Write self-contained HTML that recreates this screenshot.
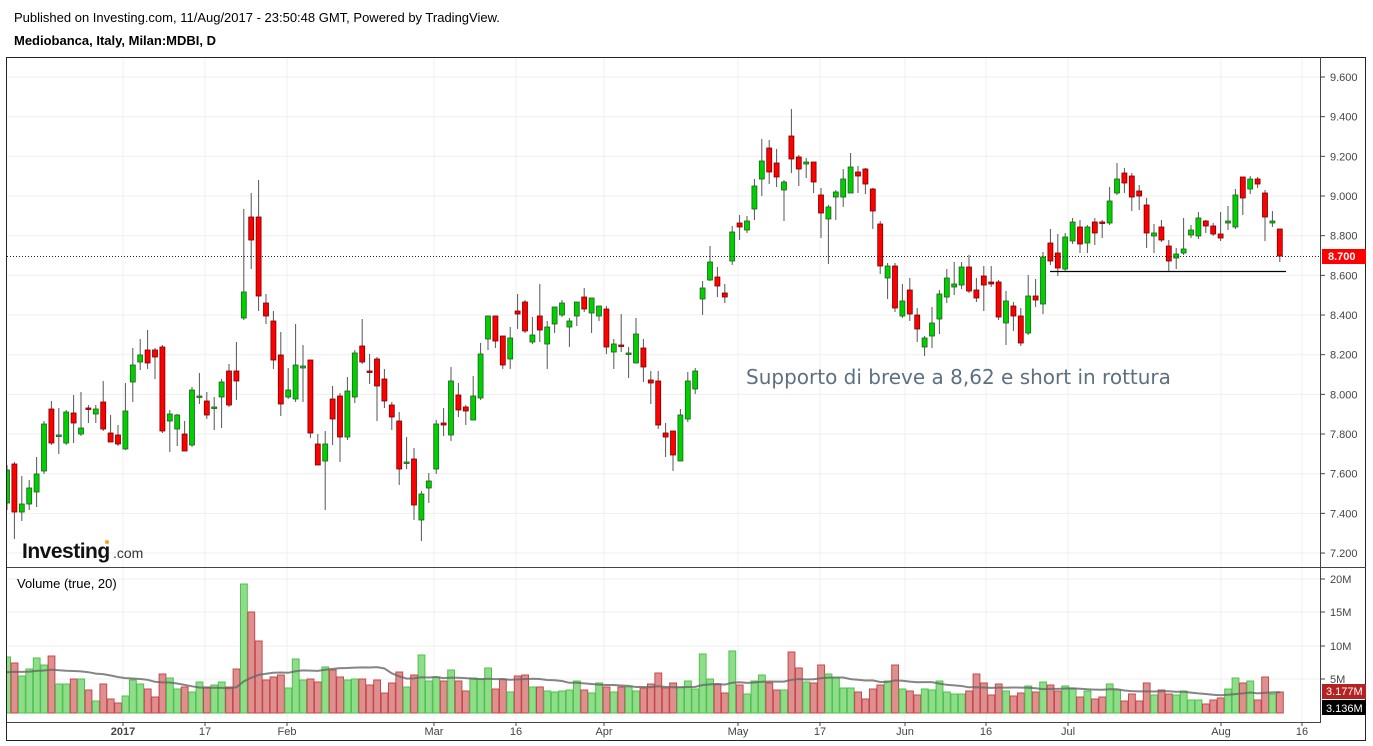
<!DOCTYPE html>
<html><head><meta charset="utf-8"><style>
body{margin:0;background:#fff;width:1373px;height:746px;overflow:hidden;font-family:"Liberation Sans",Arial,sans-serif}
svg{position:absolute;left:0;top:0}
</style></head><body>
<svg id="s" width="1373" height="746" xmlns="http://www.w3.org/2000/svg" font-family="Liberation Sans, Arial, sans-serif">
<defs><clipPath id="pc"><rect x="7" y="58" width="1313" height="664"/></clipPath></defs>
<text x="14" y="22" font-size="13" fill="#000">Published on Investing.com, 11/Aug/2017 - 23:50:48 GMT, Powered by TradingView.</text>
<text x="14" y="45" font-size="13" font-weight="bold" fill="#000">Mediobanca, Italy, Milan:MDBI, D</text>
<g id="grid"></g>
<g clip-path="url(#pc)">
<g id="vol"></g>
<polyline id="ma" fill="none" stroke="#666" stroke-opacity="0.8" stroke-width="2"/>
<g id="cd"></g>
</g>
<line x1="7" y1="256.5" x2="1320" y2="256.5" stroke="#222" stroke-width="1" stroke-dasharray="1,2"/>
<line x1="1050" y1="271.5" x2="1286" y2="271.5" stroke="#000" stroke-width="1.3"/>
<text x="746" y="384" font-size="20" fill="#5d7082" font-family="DejaVu Sans, Verdana, sans-serif">Supporto di breve a 8,62 e short in rottura</text>
<text x="22" y="558" font-size="21" font-weight="bold" fill="#111" letter-spacing="-0.5">Investing</text><text x="113" y="558" font-size="14" fill="#333">.com</text>
<circle cx="107" cy="542" r="2" fill="#f5a623"/>
<text x="17" y="588" font-size="13" fill="#000">Volume (true, 20)</text>
<rect x="6.5" y="57.5" width="1359" height="683" fill="none" stroke="#222"/>
<line x1="1320.5" y1="57" x2="1320.5" y2="722" stroke="#444"/>
<line x1="7" y1="567.5" x2="1366" y2="567.5" stroke="#444"/>
<line x1="7" y1="722.5" x2="1321" y2="722.5" stroke="#444"/>
<g id="ax" font-size="11" fill="#444"></g>
<rect x="1322" y="249" width="44" height="15" fill="#f00"/>
<text x="1328" y="260" font-size="11" font-weight="bold" fill="#fff">8.700</text>
<rect x="1322" y="684" width="44" height="15" fill="#b52222"/>
<text x="1326" y="695" font-size="11" fill="#fff">3.177M</text>
<rect x="1322" y="700" width="44" height="15" fill="#000"/>
<text x="1326" y="712" font-size="11" fill="#fff">3.136M</text>
</svg>
<script>
var NS="http://www.w3.org/2000/svg";
function el(p,t,a,txt){var e=document.createElementNS(NS,t);for(var k in a)e.setAttribute(k,a[k]);if(txt!=null)e.textContent=txt;document.getElementById(p).appendChild(e);return e;}
for(var i=0;i<=12;i++){var y=77+i*39.67;el("grid","line",{x1:7,x2:1320,y1:y,y2:y,stroke:"#efefef"});}
var vx=[123,205,287,434,516,604,738,820,905,986,1068,1221,1302];
vx.forEach(function(x){el("grid","line",{x1:x,x2:x,y1:58,y2:722,stroke:"#efefef"});});
[579,612,646,679].forEach(function(y){el("grid","line",{x1:7,x2:1320,y1:y,y2:y,stroke:"#efefef"});});
for(var i=0;i<=12;i++){var y=77+i*39.67;var v=(9.6-i*0.2).toFixed(3);if(Math.abs(y-256)<8)continue;el("ax","line",{x1:1320,x2:1325,y1:y,y2:y,stroke:"#444"});el("ax","text",{x:1330,y:y+4},v);}
[["20M",579],["15M",612],["10M",646],["5M",679]].forEach(function(a){el("ax","line",{x1:1320,x2:1325,y1:a[1],y2:a[1],stroke:"#444"});el("ax","text",{x:1330,y:a[1]+4},a[0]);});
var lb=[["2017",123,1],["17",205],["Feb",287],["Mar",434],["16",516],["Apr",604],["May",738],["17",820],["Jun",905],["16",986],["Jul",1068],["Aug",1221],["16",1302]];
lb.forEach(function(a){el("ax","line",{x1:a[1],x2:a[1],y1:722,y2:726,stroke:"#444"});el("ax","text",{x:a[1],y:735,"text-anchor":"middle","font-weight":a[2]?"bold":"normal"},a[0]);});
var C=[[470,503,465,510,'g'],[464,512,462,539,'r'],[504,512,476,521,'g'],[488,504,480,510,'g'],[474,492,457,507,'g'],[424,471,421,474,'g'],[409,443,401,445,'r'],[435,436,408,454,'g'],[412,443,410,445,'g'],[413,423,395,443,'r'],[428,434,392,436,'g'],[408,409,405,423,'r'],[409,414,405,423,'g'],[402,429,381,431,'r'],[433,442,415,442,'r'],[435,444,425,446,'r'],[411,449,383,450,'g'],[365,382,348,402,'g'],[355,362,339,370,'g'],[350,363,330,369,'r'],[350,357,348,379,'r'],[347,431,345,433,'r'],[414,421,410,452,'g'],[415,429,414,446,'g'],[434,451,421,451,'r'],[390,445,387,447,'g'],[396,397,373,404,'g'],[401,415,392,419,'r'],[407,408,397,430,'g'],[382,397,379,428,'g'],[371,405,364,407,'r'],[371,381,342,400,'r'],[292,318,209,320,'g'],[217,240,193,269,'r'],[217,296,180,311,'r'],[303,316,294,324,'r'],[321,360,311,369,'r'],[355,404,332,416,'r'],[390,397,368,399,'g'],[365,399,324,402,'g'],[366,368,345,402,'g'],[360,433,360,438,'r'],[444,465,434,465,'r'],[444,461,431,510,'g'],[399,419,386,445,'r'],[396,437,393,462,'r'],[391,437,377,440,'g'],[353,397,350,403,'g'],[346,362,319,364,'r'],[371,372,354,384,'r'],[359,386,357,421,'r'],[379,401,369,408,'r'],[405,417,402,430,'r'],[421,469,412,485,'r'],[462,463,437,469,'g'],[459,505,448,520,'r'],[494,520,491,541,'g'],[481,488,473,503,'g'],[424,469,420,474,'g'],[423,425,408,436,'r'],[381,435,367,441,'g'],[395,410,383,417,'r'],[407,411,405,425,'r'],[396,420,376,420,'g'],[354,398,343,400,'g'],[316,339,316,350,'g'],[316,341,316,348,'r'],[336,365,336,369,'r'],[338,359,327,369,'g'],[311,314,294,329,'r'],[302,331,300,333,'r'],[335,342,317,344,'g'],[316,330,284,342,'r'],[327,344,321,369,'g'],[307,324,307,333,'g'],[303,315,300,317,'g'],[321,327,318,347,'g'],[302,316,302,326,'g'],[297,309,288,312,'r'],[298,313,298,333,'g'],[306,316,306,321,'g'],[309,347,306,354,'r'],[344,352,339,369,'g'],[345,346,314,352,'r'],[353,354,347,378,'g'],[334,363,318,363,'g'],[348,367,339,382,'r'],[380,383,371,404,'r'],[381,425,371,429,'r'],[433,437,423,457,'r'],[431,455,431,471,'r'],[415,461,409,461,'g'],[381,419,372,422,'g'],[371,389,368,394,'g'],[288,299,281,315,'g'],[262,280,246,281,'g'],[277,286,267,297,'r'],[293,297,284,303,'r'],[232,261,226,265,'g'],[223,227,215,240,'r'],[221,230,216,233,'g'],[186,209,179,220,'g'],[161,179,139,196,'g'],[148,172,140,184,'r'],[163,177,149,187,'r'],[182,190,180,221,'g'],[136,159,109,173,'r'],[157,169,155,186,'r'],[162,164,158,178,'g'],[162,182,162,193,'r'],[195,213,188,238,'r'],[207,219,205,264,'g'],[192,197,190,220,'g'],[179,197,169,207,'g'],[167,193,153,193,'g'],[172,176,166,193,'r'],[169,184,168,194,'r'],[189,211,188,229,'r'],[224,266,221,274,'r'],[266,278,263,299,'g'],[266,308,263,312,'r'],[301,316,284,318,'g'],[290,314,278,321,'r'],[315,329,308,342,'r'],[338,347,336,356,'g'],[323,336,307,348,'g'],[294,319,290,334,'g'],[278,297,269,303,'g'],[284,287,262,295,'g'],[267,285,262,289,'g'],[267,291,255,293,'r'],[290,298,278,302,'r'],[276,285,266,311,'r'],[282,284,266,287,'r'],[282,317,280,320,'r'],[301,323,291,345,'g'],[306,316,302,331,'r'],[316,343,308,346,'r'],[296,333,275,335,'g'],[296,300,279,307,'r'],[257,304,252,314,'g'],[243,261,229,265,'r'],[253,268,234,276,'r'],[237,269,233,271,'g'],[222,241,218,244,'g'],[227,244,220,253,'r'],[227,243,225,253,'g'],[222,233,218,245,'r'],[222,223,220,238,'r'],[201,223,187,225,'g'],[179,193,163,195,'g'],[173,183,168,193,'r'],[176,197,173,211,'r'],[191,196,185,210,'r'],[205,233,198,248,'r'],[233,236,224,253,'g'],[227,240,220,242,'r'],[246,261,240,271,'r'],[254,258,248,269,'g'],[249,253,218,255,'g'],[230,235,225,238,'g'],[218,236,212,239,'g'],[221,226,220,233,'r'],[226,234,223,236,'r'],[234,238,212,241,'r'],[221,223,206,230,'g'],[195,227,189,229,'g'],[177,198,177,215,'r'],[179,189,176,194,'g'],[179,184,177,188,'r'],[193,217,190,241,'r'],[221,223,211,227,'g'],[229,256,229,262,'r']];
var V=[657,663,676,669,658,665,656,684,684,679,679,690,701,684,699,703,696,680,684,689,697,674,678,689,687,692,682,687,685,682,687,669,584,612,641,680,677,675,688,659,680,679,682,667,670,677,680,679,679,685,680,693,683,672,687,675,655,681,677,681,670,681,691,678,679,668,689,679,692,676,675,687,687,691,692,691,690,681,690,693,683,687,692,687,687,691,688,684,673,688,683,687,681,689,654,679,684,693,651,685,694,681,675,683,690,690,652,668,682,683,665,674,678,688,688,692,699,689,685,681,665,689,691,695,689,690,681,692,694,694,691,674,683,695,684,691,696,693,686,692,682,685,691,686,688,697,691,699,697,684,690,701,694,701,683,695,690,694,695,691,700,700,704,700,698,689,678,683,681,700,677,694,692];
var n=C.length,pts=[];
for(var i=0;i<n;i++){var x=7+i*7.4,c=C[i],g=c[4]=='g';
 var vy=V[i]||690;
 el("vol","rect",{x:x-3.3,y:vy,width:6.8,height:713-vy,fill:g?"#8fdc8a":"#de9090",stroke:g?"#4cc44c":"#c84848","stroke-width":1});
 el("cd","line",{x1:x,x2:x,y1:c[2],y2:c[3],stroke:"#555","stroke-width":1});
 var h=Math.max(c[1]-c[0],1.5);
 el("cd","rect",{x:x-2.5,y:c[0],width:5,height:h,fill:g?"#00d000":"#ff0000",stroke:g?"#1f5f1f":"#7a0000","stroke-width":0.8});
 var s=0,k=0;for(var j=Math.max(0,i-19);j<=i;j++){s+=713-V[j];k++;}
 var avg=(s+(20-k)*40)/20;pts.push(x+","+(713-avg).toFixed(1));
}
document.getElementById("ma").setAttribute("points",pts.join(" "));
</script>
</body></html>
